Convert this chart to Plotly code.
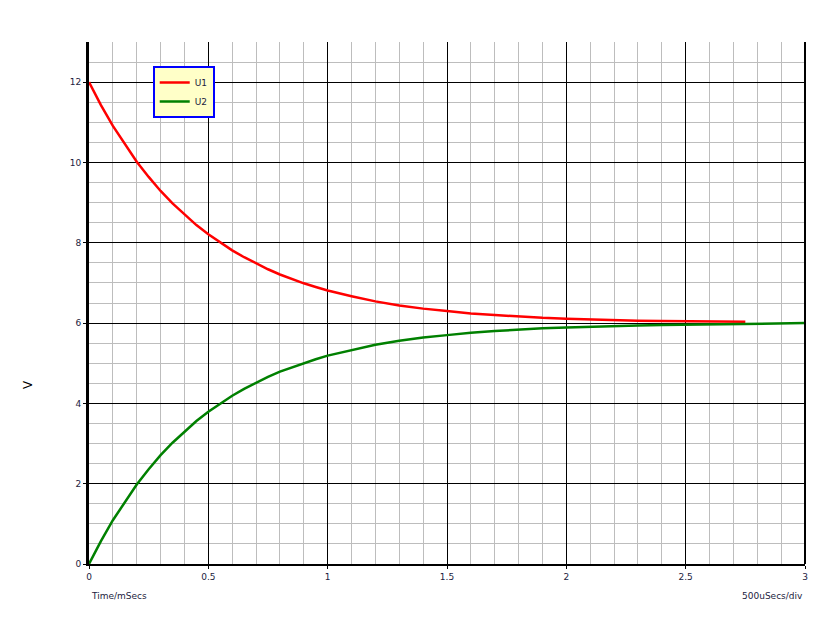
import plotly.graph_objects as go

# values
t_u1 = [0, 0.05, 0.1, 0.15, 0.2, 0.25, 0.3, 0.35, 0.4, 0.45, 0.5, 0.55, 0.6, 0.65, 0.7,
        0.75, 0.8, 0.85, 0.9, 0.95, 1.0, 1.1, 1.2, 1.3, 1.4, 1.5, 1.6, 1.7, 1.8, 1.9,
        2.0, 2.1, 2.2, 2.3, 2.4, 2.5, 2.6, 2.75]
u1 = [12.0, 11.43, 10.91, 10.45, 10.02, 9.64, 9.29, 8.98, 8.70, 8.44, 8.21, 8.00, 7.81,
      7.64, 7.48, 7.34, 7.21, 7.10, 6.99, 6.90, 6.81, 6.67, 6.54, 6.44, 6.36, 6.30, 6.24,
      6.20, 6.16, 6.13, 6.11, 6.09, 6.07, 6.06, 6.05, 6.04, 6.04, 6.03]

t_u2 = [0, 0.05, 0.1, 0.15, 0.2, 0.25, 0.3, 0.35, 0.4, 0.45, 0.5, 0.55, 0.6, 0.65, 0.7,
        0.75, 0.8, 0.85, 0.9, 0.95, 1.0, 1.1, 1.2, 1.3, 1.4, 1.5, 1.6, 1.7, 1.8, 1.9,
        2.0, 2.1, 2.2, 2.3, 2.4, 2.5, 2.6, 2.7, 2.8, 2.9, 3.0]
u2 = [0.0, 0.57, 1.09, 1.55, 1.98, 2.36, 2.71, 3.02, 3.30, 3.56, 3.79, 4.00, 4.19,
      4.36, 4.52, 4.66, 4.79, 4.90, 5.01, 5.10, 5.19, 5.33, 5.46, 5.56, 5.64, 5.70, 5.76,
      5.80, 5.84, 5.87, 5.89, 5.91, 5.93, 5.94, 5.95, 5.96, 5.97, 5.98, 5.99, 6.0, 6.0]

x_ticks = [0, 0.5, 1, 1.5, 2, 2.5, 3]
x_labels = ["0", "0.5", "1", "1.5", "2", "2.5", "3"]
y_ticks = [0, 2, 4, 6, 8, 10, 12]

fig = go.Figure()
fig.add_trace(go.Scatter(x=t_u1, y=u1, mode="lines", name="U1",
                         line=dict(color="#ff0000", width=2.5)))
fig.add_trace(go.Scatter(x=t_u2, y=u2, mode="lines", name="U2",
                         line=dict(color="#008000", width=2.5)))

tick_font = dict(family="DejaVu Sans", size=9, color="#1c1c40")

fig.update_layout(
    width=840, height=630,
    margin=dict(l=81, r=43, t=34, b=74),
    paper_bgcolor="white", plot_bgcolor="white",
    showlegend=True,
    legend=dict(x=0.089, y=0.954, xanchor="left", yanchor="top",
                bgcolor="#ffffc8", bordercolor="#0000ff", borderwidth=2,
                font=dict(family="DejaVu Sans", size=9, color="#1c1c40"),
                tracegroupgap=0, itemwidth=30),
    xaxis=dict(range=[0, 3], tickvals=x_ticks, ticktext=x_labels,
               showgrid=True, gridcolor="black", gridwidth=1,
               minor=dict(dtick=0.1, showgrid=True, gridcolor="#bdbdbd", gridwidth=1),
               showline=True, linecolor="black", linewidth=2,
               ticks="outside", ticklen=3, tickcolor="black",
               tickfont=tick_font, zeroline=False),
    yaxis=dict(range=[0, 13], tickvals=y_ticks,
               showgrid=True, gridcolor="black", gridwidth=1,
               minor=dict(dtick=0.5, showgrid=True, gridcolor="#bdbdbd", gridwidth=1),
               showline=True, linecolor="black", linewidth=3,
               ticks="outside", ticklen=3, tickcolor="black",
               tickfont=tick_font, zeroline=False),
)

# right border
fig.add_shape(type="line", xref="paper", yref="paper", x0=1, x1=1, y0=0, y1=1,
              line=dict(color="black", width=2))

fig.add_annotation(text="V", xref="paper", yref="paper", x=-0.085, y=0.343,
                   xanchor="center", showarrow=False, textangle=-90,
                   font=dict(family="DejaVu Sans", size=12, color="black"))
fig.add_annotation(text="Time/mSecs", xref="paper", yref="paper", x=0, y=-0.061,
                   xanchor="left", yanchor="middle", showarrow=False, font=tick_font)
fig.add_annotation(text="500uSecs/div", xref="paper", yref="paper", x=1, y=-0.061,
                   xanchor="right", yanchor="middle", showarrow=False, font=tick_font)

fig.write_html("out.html")
